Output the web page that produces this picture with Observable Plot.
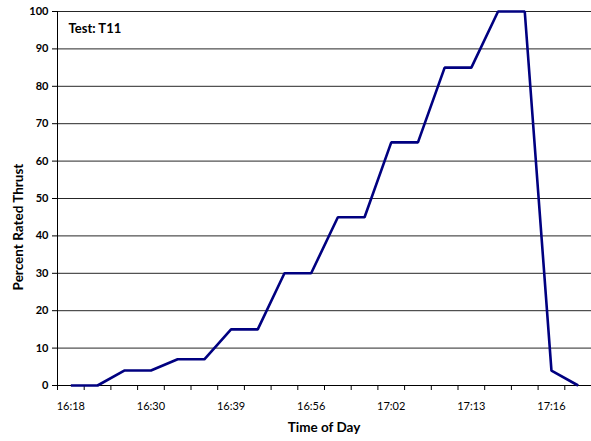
<!DOCTYPE html>
<html>
<head>
<meta charset="utf-8">
<script src="https://cdn.jsdelivr.net/npm/d3@7"></script>
<script src="https://cdn.jsdelivr.net/npm/@observablehq/plot@0.6"></script>
<style>
  html, body { margin: 0; padding: 0; background: #fff; }
  #chart { width: 591px; height: 441px; }
</style>
</head>
<body>
<div id="chart"></div>
<script>
// Data: 20 category positions (only every 3rd labelled on the axis)
const thrust = [0, 0, 4, 4, 7, 7, 15, 15, 30, 30, 45, 45, 65, 65, 85, 85, 100, 100, 4, 0];
const tickLabels = ["16:18", "16:30", "16:39", "16:56", "17:02", "17:13", "17:16"];
const tickLabelIndex = [0, 3, 6, 9, 12, 15, 18];
const yTicks = [0, 10, 20, 30, 40, 50, 60, 70, 80, 90, 100];
const testName = "Test: T11";
const xTitle = "Time of Day";
const yTitle = "Percent Rated Thrust";

const n = thrust.length;
const points = thrust.map((v, i) => ({i, v}));
const bounds = d3.range(n + 1).map(k => k - 0.5);
const labelMap = new Map(tickLabelIndex.map((k, j) => [k, tickLabels[j]]));

const W = 591, H = 441;
const mL = 57, mR = 0, mT = 11, mB = 56;

const chart = Plot.plot({
  width: W,
  height: H,
  marginLeft: mL,
  marginRight: mR,
  marginTop: mT,
  marginBottom: mB,
  style: {fontFamily: "Lato, 'Open Sans', sans-serif", background: "#fff", color: "#000"},
  x: {type: "linear", domain: [-0.5, n - 0.5]},
  y: {domain: [0, 100]},
  marks: [
    Plot.ruleY(yTicks.filter(d => d > 0), {stroke: "#000", strokeWidth: 1, strokeOpacity: 0.85}),
    Plot.ruleY([0], {stroke: "#000", strokeWidth: 1}),
    Plot.ruleX([-0.5], {stroke: "#000", strokeWidth: 1}),
    Plot.axisY({ticks: yTicks, tickSize: 5, tickPadding: 4, fontSize: 11, fontWeight: "bold", label: null}),
    Plot.axisX({ticks: bounds, tickSize: 5, tickFormat: () => "", label: null}),
    Plot.axisX({ticks: tickLabelIndex, tickSize: 0, tickPadding: 17, fontSize: 11, tickFormat: d => labelMap.get(d), label: null}),
    Plot.line(points, {x: "i", y: "v", stroke: "#000080", strokeWidth: 2.6, strokeLinejoin: "miter", strokeLinecap: "butt"}),
    Plot.text([testName], {frameAnchor: "top-left", dx: 11, dy: 12, fontSize: 13, fontWeight: "bold", text: d => d})
  ]
});

document.getElementById("chart").appendChild(chart);

const svg = d3.select(chart);
svg.append("text")
  .attr("x", (mL + W - mR) / 2)
  .attr("y", 432)
  .attr("text-anchor", "middle")
  .attr("font-size", 13.5)
  .attr("font-weight", "bold")
  .attr("font-family", "Lato, 'Open Sans', sans-serif")
  .text(xTitle);
svg.append("text")
  .attr("transform", `translate(23,227) rotate(-90)`)
  .attr("text-anchor", "middle")
  .attr("font-size", 13.5)
  .attr("font-weight", "bold")
  .attr("font-family", "Lato, 'Open Sans', sans-serif")
  .text(yTitle);
</script>
</body>
</html>
